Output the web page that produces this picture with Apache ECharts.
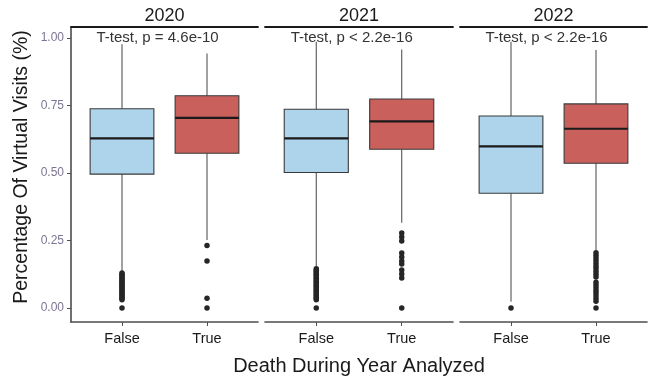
<!DOCTYPE html>
<html><head><meta charset="utf-8">
<script src="https://cdn.jsdelivr.net/npm/echarts@6/dist/echarts.min.js"></script>
<style>html,body{margin:0;padding:0;background:#fff}#c{width:651px;height:378px}</style>
</head><body><div id="c"></div>
<script>
// ---- data ----
const years = ['2020', '2021', '2022'];
const categories = ['False', 'True'];
const testLabels = ['T-test, p = 4.6e-10', 'T-test, p < 2.2e-16', 'T-test, p < 2.2e-16'];
const yTicks = [0, 0.25, 0.5, 0.75, 1.0];
// [lower whisker, Q1, median, Q3, upper whisker]
const box2020False = [0.135, 0.496, 0.628, 0.738, 0.977];
const box2020True  = [0.252, 0.573, 0.704, 0.786, 0.943];
const box2021False = [0.152, 0.502, 0.628, 0.736, 0.986];
const box2021True  = [0.316, 0.588, 0.691, 0.774, 0.958];
const box2022False = [0.023, 0.425, 0.599, 0.711, 0.986];
const box2022True  = [0.215, 0.536, 0.664, 0.756, 0.956];
const out2020False = [0.13, 0.125, 0.12, 0.115, 0.11, 0.105, 0.1, 0.095, 0.09, 0.085, 0.08, 0.075, 0.07, 0.065, 0.06, 0.055, 0.05, 0.045, 0.04, 0.035, 0.03, 0];
const out2020True  = [0.231, 0.174, 0.036, 0];
const out2021False = [0.145, 0.14, 0.135, 0.13, 0.125, 0.12, 0.115, 0.11, 0.105, 0.1, 0.095, 0.09, 0.085, 0.08, 0.075, 0.07, 0.065, 0.06, 0.055, 0.05, 0.045, 0.04, 0.035, 0.03, 0];
const out2021True  = [0.278, 0.263, 0.248, 0.204, 0.189, 0.174, 0.163, 0.141, 0.126, 0.111, 0];
const out2022False = [0];
const out2022True  = [0.205, 0.195, 0.185, 0.175, 0.165, 0.155, 0.145, 0.135, 0.125, 0.115, 0.095, 0.085, 0.075, 0.065, 0.055, 0.045, 0.035, 0.025, 0];

const boxes = [[box2020False, box2020True], [box2021False, box2021True], [box2022False, box2022True]];
const outs = [[out2020False, out2020True], [out2021False, out2021True], [out2022False, out2022True]];

// ---- style / layout ----
const FONT = "'Liberation Sans', Arial, Helvetica, sans-serif";
const fills = ['#add4ea', '#c9605b'];
const grids = [{left: 71, width: 187}, {left: 265, width: 188}, {left: 460, width: 187}];
const TOP = 27, BOTTOM_Y = 322;

const chart = echarts.init(document.getElementById('c'), null, {renderer: 'canvas'});

const gridOpt = [], xAxes = [], yAxes = [], series = [], graphics = [];
grids.forEach((g, i) => {
  gridOpt.push({left: g.left, width: g.width, top: TOP, height: BOTTOM_Y - TOP, containLabel: false});
  xAxes.push({
    type: 'value', gridIndex: i, min: 0.4, max: 2.6,
    axisLine: {show: true, onZero: false, lineStyle: {color: '#4d4d4d', width: 1.6}},
    axisTick: {show: true, length: 4, customValues: [1, 2], lineStyle: {color: '#4d4d4d', width: 1}},
    axisLabel: {show: true, customValues: [1, 2], margin: 9, fontFamily: FONT, fontSize: 14.5, color: '#1a1a1a',
      formatter: v => categories[Math.round(v) - 1] || ''},
    splitLine: {show: false}
  });
  xAxes.push({
    type: 'value', gridIndex: i, position: 'top', min: 0.4, max: 2.6,
    axisLine: {show: true, onZero: false, lineStyle: {color: '#1a1a1a', width: 1.8}},
    axisTick: {show: false}, axisLabel: {show: false}, splitLine: {show: false}
  });
  yAxes.push({
    type: 'value', gridIndex: i, min: -0.052, max: 1.041,
    show: i === 0,
    axisLine: {show: true, onZero: false, lineStyle: {color: '#4d4d4d', width: 1.6}},
    axisTick: {show: true, length: 4, customValues: yTicks, lineStyle: {color: '#4d4d4d', width: 1}},
    axisLabel: {show: true, customValues: yTicks, margin: 7, fontFamily: FONT, fontSize: 12, color: '#7d7592',
      formatter: v => v.toFixed(2)},
    splitLine: {show: false}
  });

  // boxes
  series.push({
    type: 'custom', xAxisIndex: i * 2, yAxisIndex: i,
    data: boxes[i].map((b, k) => [k + 1].concat(b)),
    encode: {x: 0, y: [1, 2, 3, 4, 5]},
    renderItem: (params, api) => {
      const x = api.value(0);
      const lo = api.value(1), q1 = api.value(2), med = api.value(3), q3 = api.value(4), hi = api.value(5);
      const pHi = api.coord([x, hi]), pLo = api.coord([x, lo]);
      const pQ3L = api.coord([x - 0.375, q3]), pQ1R = api.coord([x + 0.375, q1]);
      const pMedL = api.coord([x - 0.375, med]), pMedR = api.coord([x + 0.375, med]);
      const fill = fills[params.dataIndex];
      return {type: 'group', children: [
        {type: 'line', shape: {x1: pHi[0], y1: pHi[1], x2: pHi[0], y2: pQ3L[1]}, style: {stroke: '#555', lineWidth: 1.1}},
        {type: 'line', shape: {x1: pLo[0], y1: pQ1R[1], x2: pLo[0], y2: pLo[1]}, style: {stroke: '#555', lineWidth: 1.1}},
        {type: 'rect', shape: {x: pQ3L[0], y: pQ3L[1], width: pQ1R[0] - pQ3L[0], height: pQ1R[1] - pQ3L[1]},
          style: {fill: fill, stroke: '#3a3a3a', lineWidth: 1.1}},
        {type: 'line', shape: {x1: pMedL[0], y1: pMedL[1], x2: pMedR[0], y2: pMedR[1]}, style: {stroke: '#1a1a1a', lineWidth: 2.2}}
      ]};
    },
    z: 2
  });
  // outliers
  const pts = [];
  outs[i].forEach((arr, k) => arr.forEach(v => pts.push([k + 1, v])));
  series.push({
    type: 'scatter', xAxisIndex: i * 2, yAxisIndex: i, data: pts,
    symbolSize: 5.5, itemStyle: {color: '#262626', opacity: 1}, z: 3, silent: true
  });
  // t-test label
  series.push({
    type: 'custom', xAxisIndex: i * 2, yAxisIndex: i,
    data: [[0.7, 1.0]],
    renderItem: (params, api) => {
      const p = api.coord([api.value(0), api.value(1)]);
      return {type: 'text', style: {text: testLabels[i], x: p[0], y: p[1],
        textAlign: 'left', textVerticalAlign: 'middle', align: 'left', verticalAlign: 'middle',
        font: '15px ' + FONT, fill: '#333'}};
    },
    z: 5
  });
  // strip title
  graphics.push({type: 'text', left: g.left + g.width / 2 - 20, top: 7,
    style: {text: years[i], font: '18px ' + FONT, fill: '#1a1a1a', textAlign: 'center'}});
});

graphics.push({type: 'text', rotation: Math.PI / 2, x: 22, y: 167,
  style: {text: 'Percentage Of Virtual Visits (%)', font: '19.5px ' + FONT, fill: '#1a1a1a',
    textAlign: 'center', textVerticalAlign: 'middle', align: 'center', verticalAlign: 'middle'}});
graphics.push({type: 'text', x: 359, y: 366,
  style: {text: 'Death During Year Analyzed', font: '20px ' + FONT, fill: '#1a1a1a',
    textAlign: 'center', textVerticalAlign: 'middle', align: 'center', verticalAlign: 'middle'}});

chart.setOption({
  animation: false,
  backgroundColor: '#fff',
  grid: gridOpt, xAxis: xAxes, yAxis: yAxes, series: series, graphic: graphics
});
</script></body></html>
